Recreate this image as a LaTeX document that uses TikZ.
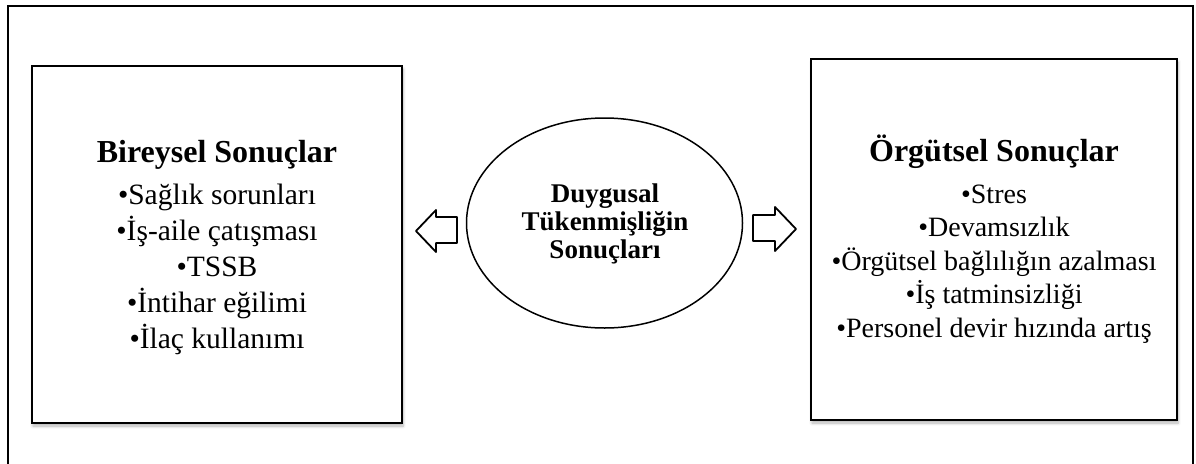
\documentclass[tikz,border=0pt]{standalone}
\usepackage{fontspec}
\setmainfont{Liberation Serif}
\usetikzlibrary{shapes.geometric,shadows.blur}
\tikzset{
  frame/.style={draw=black, line width=2pt},
  box/.style={draw=black, line width=2pt, fill=white, rectangle, inner sep=0pt,
    blur shadow={shadow xshift=1pt, shadow yshift=-3pt, shadow blur radius=3pt,
      shadow blur steps=6, shadow opacity=30}},
  oval/.style={draw=black, line width=1.5pt, ellipse, fill=white, inner sep=0pt},
  blockarrow/.style={draw=black, line width=1.8pt, line join=round, fill=white},
  ttl/.style={anchor=base, font=\fontsize{32}{38}\selectfont\bfseries, inner sep=0pt},
  litem/.style={anchor=base, font=\fontsize{29.5}{36}\selectfont, inner sep=0pt},
  ritem/.style={anchor=base, font=\fontsize{28}{34}\selectfont, inner sep=0pt},
  ctext/.style={anchor=base, font=\fontsize{27}{28}\selectfont\bfseries, inner sep=0pt}
}
\begin{document}
\begin{tikzpicture}[x=1pt, y=-1pt]
\useasboundingbox (0,0) rectangle (1196,463);
% outer frame (bottom edge lies outside the picture)
\draw[frame] (8,470) -- (8,6) -- (1193,6) -- (1193,470);
% boxes
\node[box, minimum width=370pt, minimum height=357pt] (L) at (217,244.5) {};
\node[box, minimum width=366pt, minimum height=361pt] (R) at (994,239.5) {};
\node[oval, minimum width=276pt, minimum height=210pt] (E) at (604.5,223) {};
% left texts
\node[ttl] (lt) at (217,162) {Bireysel Sonuçlar};
\node[litem] (l1) at (217,204) {•Sağlık sorunları};
\node[litem] (l2) at (217,240) {•İş-aile çatışması};
\node[litem] (l3) at (217,276) {•TSSB};
\node[litem] (l4) at (217,312) {•İntihar eğilimi};
\node[litem] (l5) at (217,348) {•İlaç kullanımı};
% right texts
\node[ttl] (rt) at (994,161) {Örgütsel Sonuçlar};
\node[ritem] (r1) at (994,203) {•Stres};
\node[ritem] (r2) at (994,236.5) {•Devamsızlık};
\node[ritem] (r3) at (994,270) {•Örgütsel bağlılığın azalması};
\node[ritem] (r4) at (994,303.5) {•İş tatminsizliği};
\node[ritem] (r5) at (994,337) {•Personel devir hızında artış};
% centre texts
\node[ctext] (c1) at (605,202) {Duygusal};
\node[ctext] (c2) at (605,230) {Tükenmişliğin};
\node[ctext] (c3) at (605,258) {Sonuçları};
% block arrows
\draw[blockarrow] (457,217) -- (436,217) -- (436,210) -- (416,231) -- (436,252) -- (436,243) -- (457,243) -- cycle;
\draw[blockarrow] (753,215) -- (775,215) -- (775,207) -- (796,229) -- (775,251) -- (775,241) -- (753,241) -- cycle;
\end{tikzpicture}
\end{document}
